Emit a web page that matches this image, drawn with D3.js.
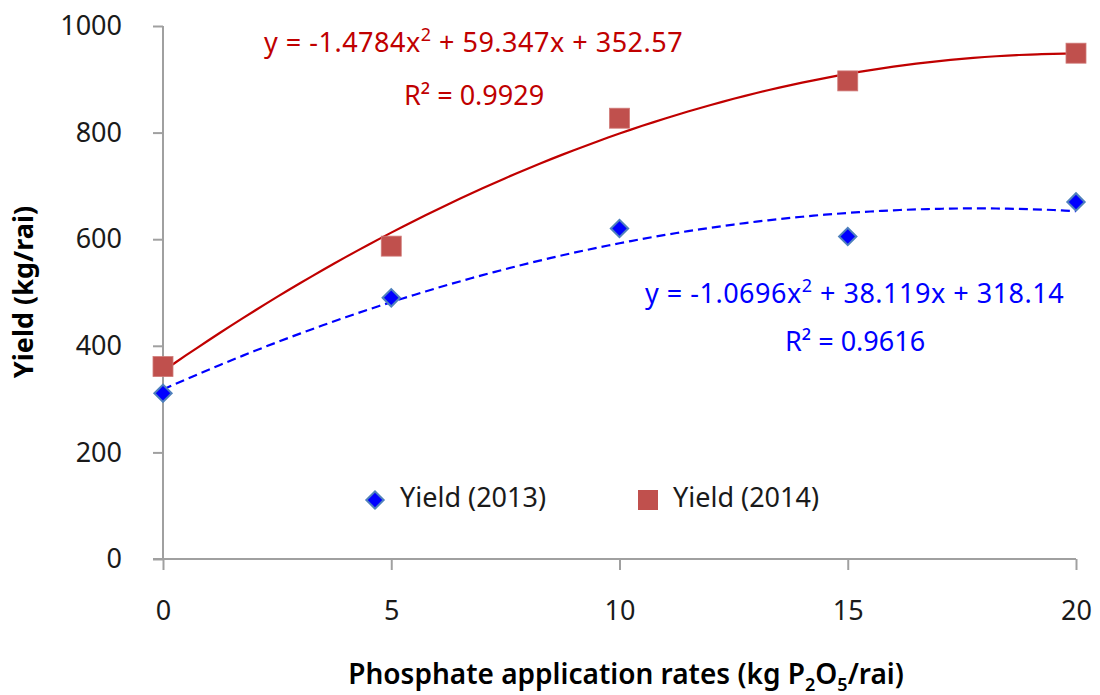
<!DOCTYPE html>
<html>
<head>
<meta charset="utf-8">
<script src="https://cdn.jsdelivr.net/npm/d3@7"></script>
<style>
  html, body { margin: 0; padding: 0; background: #fff; }
  svg text { font-family: "Noto Sans", "Open Sans", sans-serif; }
</style>
</head>
<body>
<svg id="chart" width="1100" height="695"></svg>
<script>
// Phosphate rates (kg P2O5/rai)
const rates = [0, 5, 10, 15, 20];
// Yield (kg/rai) per season
const yield2013 = [311, 490, 620, 605, 670];
const yield2014 = [361, 587, 827, 897, 949];
// Quadratic trend coefficients [a, b, c] for y = a x^2 + b x + c
const fit2013 = [-1.0696, 38.119, 318.14];
const fit2014 = [-1.4784, 59.347, 352.57];
const r2013 = "0.9616";
const r2014 = "0.9929";
const xTicks = [0, 5, 10, 15, 20];
const yTicks = [0, 200, 400, 600, 800, 1000];

const svg = d3.select("#chart");
const x = d3.scaleLinear().domain([0, 20]).range([163, 1076]);
const y = d3.scaleLinear().domain([0, 1000]).range([559, 26]);
const axisColor = "#a0a0a0";
const fs = "27px";

// Y axis
const gy = svg.append("g").attr("transform", `translate(${x(0)},0)`)
  .call(d3.axisLeft(y).tickValues(yTicks).tickSize(10).tickPadding(31).tickFormat(d3.format("d")));
// X axis
const gx = svg.append("g").attr("transform", `translate(0,${y(0)})`)
  .call(d3.axisBottom(x).tickValues(xTicks).tickSize(11).tickPadding(31).tickFormat(d3.format("d")));
[gx, gy].forEach(g => {
  g.select(".domain").attr("stroke", axisColor).attr("stroke-width", 2);
  g.selectAll(".tick line").attr("stroke", axisColor).attr("stroke-width", 2);
  g.selectAll(".tick text").attr("fill", "#1a1a1a").style("font-size", fs);
});
gy.select(".domain").attr("d", `M0,${y(1000)}V${y(0)}`);
gx.select(".domain").attr("d", `M${x(0) - 10},0H${x(20)}`);

// Trend curves sampled along the rate domain
const quad = (c, v) => c[0] * v * v + c[1] * v + c[2];
const samples = d3.range(0, 20.001, 0.25);
const line = d3.line().x(d => x(d)).curve(d3.curveMonotoneX);
svg.append("path")
  .attr("d", line.y(d => y(quad(fit2014, d)))(samples))
  .attr("fill", "none").attr("stroke", "#c00000").attr("stroke-width", 2.2);
svg.append("path")
  .attr("d", line.y(d => y(quad(fit2013, d)))(samples))
  .attr("fill", "none").attr("stroke", "#0000ff").attr("stroke-width", 2.2)
  .attr("stroke-dasharray", "9,5");

// Markers
const squareSize = 20;
svg.append("g").selectAll("rect").data(rates).join("rect")
  .attr("x", (d) => x(d) - squareSize / 2)
  .attr("y", (d, i) => y(yield2014[i]) - squareSize / 2)
  .attr("width", squareSize).attr("height", squareSize)
  .attr("fill", "#c0504d").attr("stroke", "#d07a78").attr("stroke-width", 0.8);
const diamondPath = d3.symbol().type(d3.symbolSquare).size(150)();
svg.append("g").selectAll("path").data(rates).join("path")
  .attr("d", diamondPath)
  .attr("transform", (d, i) => `translate(${x(d)},${y(yield2013[i])}) rotate(45)`)
  .attr("fill", "#0000ff").attr("stroke", "#4f81bd").attr("stroke-width", 2);

// Trend equations
function equation(cx, cy, color, coef) {
  const t = svg.append("text").attr("x", cx).attr("y", cy).attr("fill", color)
    .style("font-size", fs).style("letter-spacing", "0.5px");
  t.append("tspan").text(`y = ${coef[0]}x`);
  t.append("tspan").attr("dy", -11).style("font-size", "18px").text("2");
  t.append("tspan").attr("dy", 11).text(` + ${coef[1]}x + ${coef[2]}`);
  return t;
}
equation(264, 52, "#c00000", fit2014);
svg.append("text").attr("x", 474).attr("y", 105).attr("text-anchor", "middle")
  .attr("fill", "#c00000").style("font-size", fs).text(`R² = ${r2014}`);
equation(645, 303, "#0000ff", fit2013);
svg.append("text").attr("x", 855).attr("y", 351).attr("text-anchor", "middle")
  .attr("fill", "#0000ff").style("font-size", fs).text(`R² = ${r2013}`);

// Legend
const lg = svg.append("g");
lg.append("path").attr("d", diamondPath)
  .attr("transform", "translate(375,500) rotate(45)")
  .attr("fill", "#0000ff").attr("stroke", "#4f81bd").attr("stroke-width", 2);
lg.append("text").attr("x", 400).attr("y", 507).attr("fill", "#1a1a1a")
  .style("font-size", fs).text("Yield (2013)");
lg.append("rect").attr("x", 638).attr("y", 490).attr("width", 20).attr("height", 20)
  .attr("fill", "#c0504d");
lg.append("text").attr("x", 673).attr("y", 507).attr("fill", "#1a1a1a")
  .style("font-size", fs).text("Yield (2014)");

// Axis titles
svg.append("text").attr("transform", "translate(33,292) rotate(-90)")
  .attr("text-anchor", "middle").attr("fill", "#000").style("font-size", "27px")
  .style("font-weight", "bold").text("Yield (kg/rai)");
const xt = svg.append("text").attr("x", 626).attr("y", 684).attr("text-anchor", "middle")
  .attr("fill", "#000").style("font-size", "28px").style("font-weight", 600);
xt.append("tspan").text("Phosphate application rates (kg P");
xt.append("tspan").attr("dy", 7).style("font-size", "18px").text("2");
xt.append("tspan").attr("dy", -7).text("O");
xt.append("tspan").attr("dy", 7).style("font-size", "18px").text("5");
xt.append("tspan").attr("dy", -7).text("/rai)");
</script>
</body>
</html>
